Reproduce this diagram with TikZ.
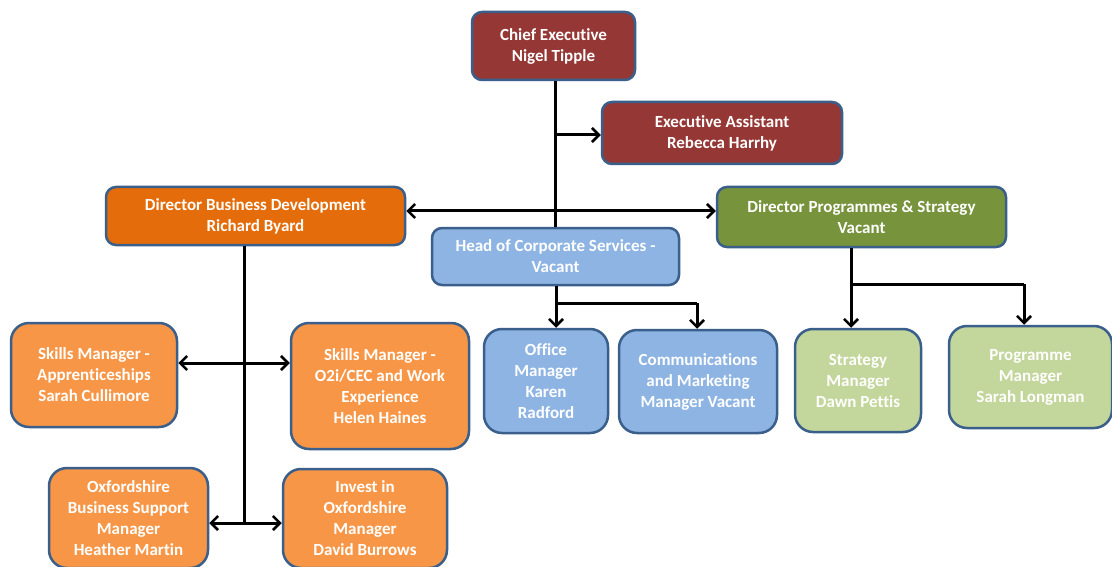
\documentclass[tikz,border=0pt]{standalone}
\usepackage{fontspec}
\setmainfont{Carlito}[Ligatures={NoCommon}]
\usetikzlibrary{arrows.meta}
\definecolor{bordc}{HTML}{3A5F8B}
\definecolor{cered}{HTML}{953735}
\definecolor{dorange}{HTML}{E46C0A}
\definecolor{lorange}{HTML}{F79646}
\definecolor{dgreen}{HTML}{77933C}
\definecolor{lgreen}{HTML}{C3D69B}
\definecolor{lblue}{HTML}{8EB4E3}
\tikzset{
  box/.style={draw=bordc, line width=2.5pt, rounded corners=10pt, text=white,
    font=\fontsize{17}{21}\selectfont\bfseries, align=center, inner sep=0pt,
    execute at begin node={\rule{0pt}{16.5pt}}},
  tallbox/.style={box, rounded corners=18pt},
  conn/.style={line width=3pt, draw=black},
  arr/.style={conn, -{Straight Barb[length=7pt,width=14pt,line width=2.5pt]}},
  darr/.style={conn, {Straight Barb[length=7pt,width=14pt,line width=2.5pt]}-{Straight Barb[length=7pt,width=14pt,line width=2.5pt]}}
}
\begin{document}
\begin{tikzpicture}[x=1pt,y=-1pt]
\useasboundingbox (0,0) rectangle (1112,567);
\fill[white] (0,0) rectangle (1112,567);
% nodes
\node[box, fill=cered, minimum width=163pt, minimum height=68pt] (ce) at (553.5,46) {Chief Executive\\Nigel Tipple};
\node[box, fill=cered, minimum width=240pt, minimum height=62pt] (ea) at (722,133) {Executive Assistant\\Rebecca Harrhy};
\node[box, fill=dorange, minimum width=299pt, minimum height=58pt] (dbd) at (255.5,216) {Director Business Development\\Richard Byard};
\node[box, fill=dgreen, minimum width=289pt, minimum height=60pt] (dps) at (861.5,217) {Director Programmes \& Strategy\\Vacant};
\node[box, fill=lblue, minimum width=247pt, minimum height=57pt] (hcs) at (555.5,256.5) {Head of Corporate Services -\\Vacant};
\node[tallbox, fill=lorange, minimum width=166pt, minimum height=104pt] (sa) at (94,375) {Skills Manager -\\Apprenticeships\\Sarah Cullimore};
\node[tallbox, fill=lorange, minimum width=178pt, minimum height=126pt] (so) at (380,386) {Skills Manager -\\O2i/CEC and Work\\Experience\\Helen Haines};
\node[tallbox, fill=lorange, minimum width=159pt, minimum height=100pt] (obs) at (128.5,518) {Oxfordshire\\Business Support\\Manager\\Heather Martin};
\node[tallbox, fill=lorange, minimum width=164pt, minimum height=99pt] (ioi) at (365,518.5) {Invest in\\Oxfordshire\\Manager\\David Burrows};
\node[tallbox, fill=lblue, minimum width=124pt, minimum height=104pt] (om) at (546,381) {Office\\Manager\\Karen\\Radford};
\node[tallbox, fill=lblue, minimum width=158pt, minimum height=103pt] (cm) at (698,381.5) {Communications\\and Marketing\\Manager Vacant};
\node[tallbox, fill=lgreen, minimum width=126pt, minimum height=103pt] (sm) at (858,380.5) {Strategy\\Manager\\Dawn Pettis};
\node[tallbox, fill=lgreen, minimum width=163pt, minimum height=102pt] (pm) at (1030.5,377) {Programme\\Manager\\Sarah Longman};
% junction coordinates
\coordinate (jea) at (555,135);
\coordinate (jdir) at (555,211);
\coordinate (jhcs) at (556,303);
\coordinate (jcm) at (697,303);
\coordinate (jdps) at (851,284);
\coordinate (jpm) at (1024,284);
\coordinate (jdbd) at (244,245);
\coordinate (jsk) at (244,363);
\coordinate (jbot) at (244,523);
% connectors
\draw[conn] (ce.south -| jea) -- (hcs.north -| jea);
\draw[arr] (jea) -- (ea.west |- jea);
\draw[darr] (dbd.east |- jdir) -- (dps.west |- jdir);
\draw[conn] (hcs.south -| jhcs) -- (jhcs) -- (jcm);
\draw[arr] (jcm) -- (jcm |- cm.north);
\draw[arr] (jhcs) -- (jhcs |- om.north);
\draw[conn] (dps.south -| jdps) -- (jdps) -- (jpm);
\draw[arr] (jdps) -- (jdps |- sm.north);
\draw[arr] (jpm) -- (jpm |- pm.north);
\draw[conn] (dbd.south -| jdbd) -- (jbot);
\draw[darr] (sa.east |- jsk) -- (so.west |- jsk);
\draw[darr] (obs.east |- jbot) -- (ioi.west |- jbot);
\end{tikzpicture}
\end{document}
